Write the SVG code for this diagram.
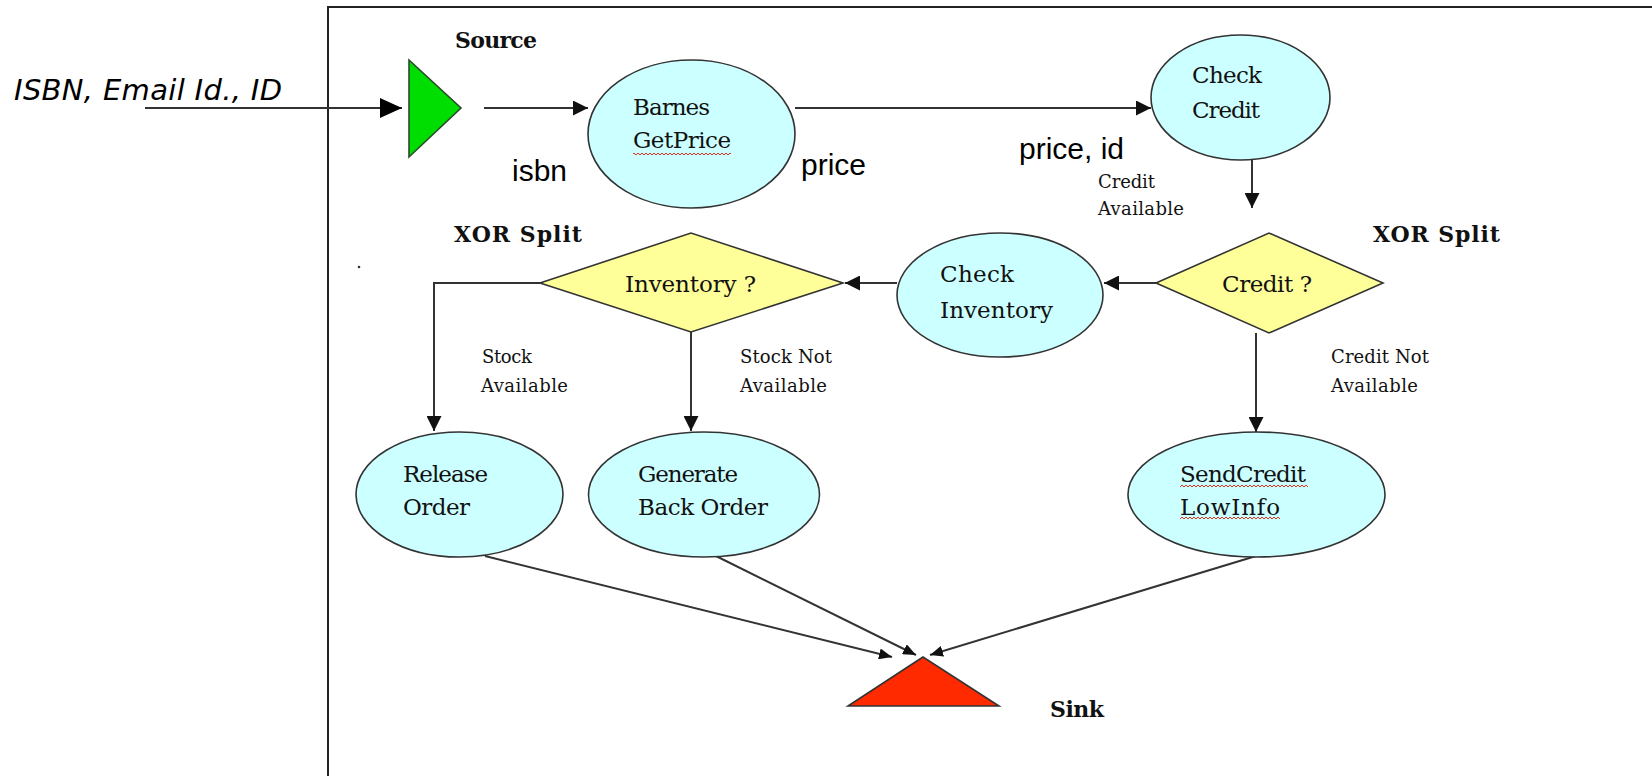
<svg xmlns="http://www.w3.org/2000/svg" width="1652" height="776" viewBox="0 0 1652 776">
<style>
.frame{fill:none;stroke:#222;stroke-width:2}
.task{fill:#ccffff;stroke:#333;stroke-width:1.6}
.gate{fill:#ffff99;stroke:#333;stroke-width:1.6}
.conn{fill:none;stroke:#333;stroke-width:2}
.serif{font-family:"DejaVu Serif","Liberation Serif",serif;font-size:23px;fill:#111}
.small{font-family:"DejaVu Serif","Liberation Serif",serif;font-size:18px;fill:#111}
.bold{font-family:"DejaVu Serif","Liberation Serif",serif;font-size:22px;font-weight:bold;fill:#111}
.sans{font-family:"Liberation Sans",Arial,sans-serif;font-size:30px;fill:#000}
.ital{font-family:"DejaVu Sans","Liberation Sans",sans-serif;font-size:29px;font-style:italic;fill:#000}
.squig{fill:url(#sq)}
</style>
<defs>
<marker id="ah" markerUnits="userSpaceOnUse" markerWidth="15" markerHeight="15" refX="15" refY="7.5" orient="auto"><path d="M0,0 L15,7.5 L0,15 z" fill="#111"/></marker>
<marker id="ahBig" markerUnits="userSpaceOnUse" markerWidth="22" markerHeight="20" refX="22" refY="10" orient="auto"><path d="M0,0 L22,10 L0,20 z" fill="#000"/></marker>
<marker id="ahS" markerUnits="userSpaceOnUse" markerWidth="13" markerHeight="11" refX="13" refY="5.5" orient="auto"><path d="M0,0 L13,5.5 L0,11 z" fill="#111"/></marker>
<pattern id="sq" width="4" height="4" patternUnits="userSpaceOnUse"><path d="M0,3 L2,1 L4,3" stroke="#e8301a" stroke-width="1" fill="none"/></pattern>
</defs>
<rect class="frame" x="328" y="7" width="1400" height="820"/>
<circle cx="359" cy="267" r="1.3" fill="#333"/>
<text class="ital" x="14" y="100" textLength="268">ISBN, Email Id., ID</text>
<g id="connectors">
<line class="conn" x1="145" y1="108" x2="402" y2="108" marker-end="url(#ahBig)"/>
<line class="conn" x1="484" y1="108" x2="588" y2="108" marker-end="url(#ah)"/>
<line class="conn" x1="795" y1="108" x2="1151" y2="108" marker-end="url(#ah)"/>
<line class="conn" x1="1252" y1="160" x2="1252" y2="208" marker-end="url(#ah)"/>
<line class="conn" x1="1156" y1="283" x2="1104" y2="283" marker-end="url(#ah)"/>
<line class="conn" x1="897" y1="283" x2="845" y2="283" marker-end="url(#ah)"/>
<polyline class="conn" points="540,283 434,283 434,431" marker-end="url(#ah)"/>
<line class="conn" x1="691" y1="332" x2="691" y2="431" marker-end="url(#ah)"/>
<line class="conn" x1="1256" y1="333" x2="1256" y2="432" marker-end="url(#ah)"/>
<line class="conn" x1="485" y1="556" x2="892" y2="657" marker-end="url(#ahS)"/>
<line class="conn" x1="716" y1="556" x2="916" y2="655" marker-end="url(#ahS)"/>
<line class="conn" x1="1256" y1="556" x2="930" y2="655" marker-end="url(#ahS)"/>
<text class="sans" x="512" y="181">isbn</text>
<text class="sans" x="801" y="175">price</text>
<text class="sans" x="1019" y="159">price, id</text>
<text class="small" x="1098" y="188" textLength="57">Credit</text>
<text class="small" x="1098" y="215" textLength="86">Available</text>
<text class="small" x="482" y="363" textLength="50">Stock</text>
<text class="small" x="481" y="392" textLength="87">Available</text>
<text class="small" x="740" y="363" textLength="92">Stock Not</text>
<text class="small" x="740" y="392" textLength="87">Available</text>
<text class="small" x="1331" y="363" textLength="98">Credit Not</text>
<text class="small" x="1331" y="392" textLength="87">Available</text>
</g>
<g id="source">
<polygon points="409,60 461,108 409,157" fill="#00dd00" stroke="#2a4a2a" stroke-width="1.6"/>
<text class="bold" x="455" y="48" textLength="82">Source</text>
</g>
<g id="barnes">
<ellipse class="task" cx="691.5" cy="134" rx="103.5" ry="74"/>
<text class="serif" x="633" y="115" textLength="77">Barnes</text>
<text class="serif" x="633" y="148" textLength="98">GetPrice</text>
<rect class="squig" x="633" y="152" width="98" height="4"/>
</g>
<g id="checkCredit">
<ellipse class="task" cx="1240.5" cy="97.5" rx="89.5" ry="62.5"/>
<text class="serif" x="1192" y="83" textLength="70">Check</text>
<text class="serif" x="1192" y="118" textLength="68">Credit</text>
</g>
<g id="creditSplit">
<polygon class="gate" points="1156,283 1269,233 1383,283 1269,333"/>
<text class="serif" x="1222" y="292" textLength="90">Credit ?</text>
<text class="bold" x="1373" y="242" textLength="127">XOR Split</text>
</g>
<g id="checkInventory">
<ellipse class="task" cx="1000" cy="295" rx="103" ry="62"/>
<text class="serif" x="940" y="282" textLength="74">Check</text>
<text class="serif" x="940" y="318" textLength="113">Inventory</text>
</g>
<g id="inventorySplit">
<polygon class="gate" points="540,283 691,233 843,283 691,332"/>
<text class="serif" x="625" y="292" textLength="131">Inventory ?</text>
<text class="bold" x="454" y="242" textLength="128">XOR Split</text>
</g>
<g id="releaseOrder">
<ellipse class="task" cx="459.5" cy="494.5" rx="103.5" ry="62.5"/>
<text class="serif" x="403" y="482" textLength="85">Release</text>
<text class="serif" x="403" y="515" textLength="67">Order</text>
</g>
<g id="backOrder">
<ellipse class="task" cx="704" cy="494.5" rx="115.5" ry="62.5"/>
<text class="serif" x="638" y="482" textLength="100">Generate</text>
<text class="serif" x="638" y="515" textLength="130">Back Order</text>
</g>
<g id="sendCredit">
<ellipse class="task" cx="1256.5" cy="494.5" rx="128.5" ry="62.5"/>
<text class="serif" x="1180" y="482" textLength="126">SendCredit</text>
<rect class="squig" x="1180" y="484" width="128" height="4"/>
<text class="serif" x="1180" y="515" textLength="100">LowInfo</text>
<rect class="squig" x="1180" y="516" width="100" height="4"/>
</g>
<g id="sink">
<polygon points="923,657 848,706 999,706" fill="#ff2a00" stroke="#333" stroke-width="1.6"/>
<text class="bold" x="1050" y="717" textLength="54">Sink</text>
</g>
</svg>
